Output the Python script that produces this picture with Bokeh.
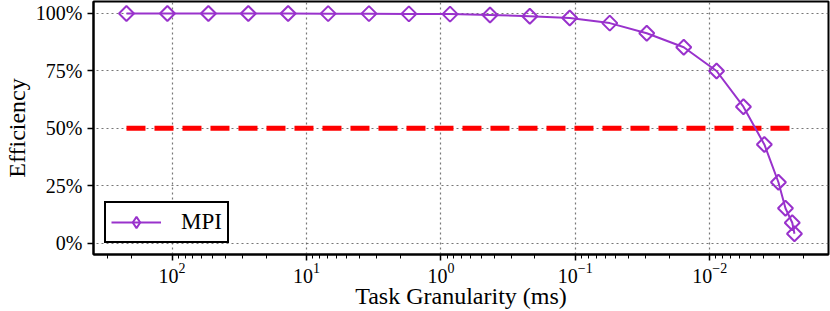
import math
from bokeh.plotting import figure
from bokeh.models import Range1d, FixedTicker, PrintfTickFormatter
from bokeh.embed import file_html
from bokeh.resources import INLINE

# --- data ---
granularity_ms = [218.6, 108.4, 53.7, 27.1, 13.7, 6.90, 3.43, 1.73, 0.855, 0.431,
                  0.218, 0.110, 0.0554, 0.0294, 0.0156, 0.00889, 0.00561, 0.00392,
                  0.00308, 0.00273, 0.00243, 0.00234]
efficiency_pct = [99.9, 99.9, 99.9, 99.9, 99.9, 99.8, 99.8, 99.7, 99.6, 99.2,
                  98.7, 97.9, 95.7, 91.3, 85.2, 74.9, 59.4, 43.0,
                  26.6, 15.3, 9.0, 4.2]
series_name = "MPI"
target_efficiency = 50
y_ticks = [0, 25, 50, 75, 100]

FONT = "Liberation Serif"
PURPLE = "#9932CC"

p = figure(width=830, height=311, x_axis_type="log",
           x_range=Range1d(384.6, 0.001306), y_range=Range1d(-4.78, 105.08),
           output_backend="svg", toolbar_location=None,
           min_border_left=92, min_border_right=2, min_border_top=1,
           min_border_bottom=57)

p.background_fill_color = "white"
p.border_fill_color = "white"
p.outline_line_color = "black"
p.outline_line_width = 2

# 50% reference line
p.line(x=[granularity_ms[0], granularity_ms[-1]],
       y=[target_efficiency, target_efficiency],
       line_color="red", line_width=5, line_dash="19 9")

p.line(granularity_ms, efficiency_pct, line_color=PURPLE, line_width=2,
       legend_label=series_name)
p.scatter(granularity_ms, efficiency_pct, marker="square", angle=math.pi / 4,
          size=10.6, fill_color=None, line_color=PURPLE, line_width=2)
# zero-size diamonds: invisible in the plot, but give the legend a diamond glyph
# (legend glyphs ignore a marker's angle)
p.scatter(granularity_ms, efficiency_pct, marker="diamond", size=0,
          fill_color=None, line_color=PURPLE, line_width=2,
          legend_label=series_name)

# axes
for ax in (p.xaxis[0], p.yaxis[0]):
    ax.axis_line_width = 2
    ax.axis_line_color = "black"
    ax.major_tick_line_width = 1.5
    ax.major_tick_line_color = "black"
    ax.major_tick_out = 6
    ax.major_tick_in = 0
    ax.major_label_text_font = FONT
    ax.major_label_text_font_size = "20px"
    ax.major_label_text_color = "black"
    ax.axis_label_text_font = FONT
    ax.axis_label_text_font_size = "24px"
    ax.axis_label_text_font_style = "normal"
    ax.axis_label_text_color = "black"

p.xaxis.minor_tick_out = 4
p.xaxis.minor_tick_in = 0
p.xaxis.minor_tick_line_width = 1
p.xaxis.minor_tick_line_color = "black"
p.xaxis.axis_label = "Task Granularity (ms)"
p.xaxis.axis_label_standoff = -3
p.xaxis.major_label_standoff = 2

p.yaxis.ticker = FixedTicker(ticks=y_ticks)
p.yaxis.formatter = PrintfTickFormatter(format="%d%%")
p.yaxis.minor_tick_line_color = None
p.yaxis.axis_label = "Efficiency"
p.yaxis.axis_label_standoff = 3
p.yaxis.major_label_standoff = 5

for g in (p.xgrid[0], p.ygrid[0]):
    g.grid_line_color = "#555555"
    g.grid_line_alpha = 0.8
    g.grid_line_dash = "2 3"
    g.grid_line_width = 1.2

lg = p.legend[0]
lg.location = "bottom_left"
lg.margin = 11
lg.border_line_color = "black"
lg.border_line_width = 2
lg.border_line_alpha = 1
lg.background_fill_color = "white"
lg.background_fill_alpha = 1
lg.label_text_font = FONT
lg.label_text_font_size = "23px"
lg.label_text_color = "black"
lg.glyph_width = 50
lg.glyph_height = 28
lg.label_standoff = 20
lg.padding = 5
lg.spacing = 0

open("out.html", "w").write(file_html(p, INLINE))
